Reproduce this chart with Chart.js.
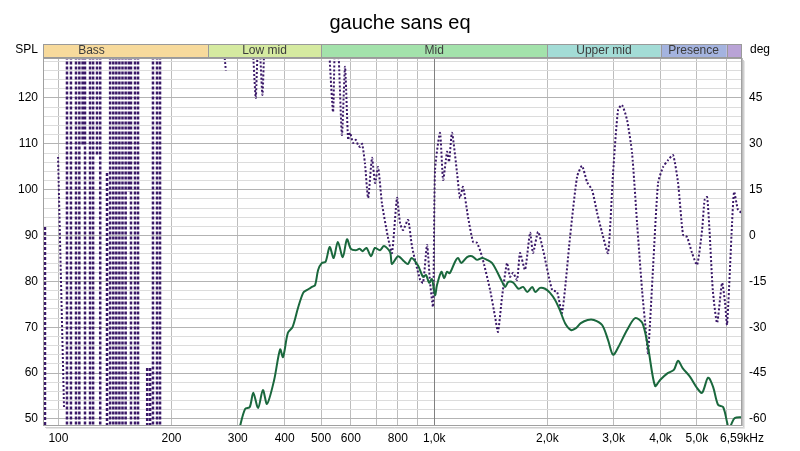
<!DOCTYPE html>
<html>
<head>
<meta charset="utf-8">
<title>gauche sans eq</title>
<script src="https://cdn.jsdelivr.net/npm/chart.js@4.4.1/dist/chart.umd.min.js"></script>
<style>
  html, body { margin: 0; padding: 0; background: #fff; }
  canvas { display: block; }
</style>
</head>
<body>
<canvas id="chart" width="800" height="451"></canvas>
<script>
// ---- data ----

// SPL trace (dB), left axis
const splFreq = [300, 304, 314, 323, 330, 340, 350, 359, 375, 389, 396, 408, 420, 434, 448, 458, 473, 482, 491, 502,
  514, 527, 540, 554, 571, 586, 600, 618, 633, 645, 660, 679, 695, 717, 735, 763, 772, 801, 831, 851,
  871, 906, 934, 951, 969, 986, 1005, 1017, 1045, 1063, 1081, 1100, 1136, 1157, 1180, 1223, 1261, 1300, 1341, 1382,
  1426, 1470, 1516, 1545, 1575, 1624, 1675, 1724, 1768, 1823, 1857, 1913, 1972, 2033, 2095, 2158, 2229, 2312, 2383, 2455,
  2560, 2660, 2797, 2901, 2991, 3090, 3259, 3425, 3580, 3705, 3868, 3989, 4180, 4340, 4454, 4580, 4794, 5000, 5160, 5354,
  5520, 5690, 5870, 6020, 6080, 6190, 6300, 6590];
const splValues = [46, 48.3, 52.2, 52.6, 55.7, 52.4, 56.3, 53.3, 58.5, 65.2, 63.5, 68.8, 70.1, 74.2, 77.5, 78.1, 78.8, 79.2, 82.5, 84.0,
  84.3, 87.5, 85.1, 88.6, 85.3, 89.2, 87.1, 86.8, 87.1, 86.6, 87.3, 85.5, 87.3, 86.8, 87.7, 86.4, 83.8, 85.5, 84.4, 83.8,
  85.1, 83.4, 81.0, 81.4, 79.7, 80.5, 77.0, 79.2, 82.1, 80.7, 82.1, 81.8, 84.3, 85.1, 84.0, 85.3, 85.5, 84.7, 85.1, 84.7,
  84.0, 82.1, 79.9, 78.8, 79.9, 79.7, 78.4, 78.8, 77.7, 78.8, 77.7, 78.6, 78.4, 77.5, 76.0, 73.8, 70.9, 69.4, 69.8, 70.9,
  71.6, 71.6, 70.5, 67.2, 64.0, 65.7, 69.4, 72.0, 70.9, 65.7, 57.2, 58.5, 60.0, 60.7, 62.7, 61.1, 59.2, 56.8, 55.7, 59.0,
  57.0, 53.1, 52.6, 49.1, 47.6, 49.1, 50.2, 50.4];

// phase trace (deg), right axis; null = break in the trace
const phaseFreq = [99.8, 103.5, null, 275, 279, null, 329, 335, 339, 343, 349, 353, null,
  523, 538, 545, 555, 568, 579, 590, 597, 608, 619, 627, 635, 643, 654, 667, 683, 696, 709, 726, 753, 772, 796,
  811, 826, 852, 873, 917, 934, 957, 975, 993, 1005, 1036, 1056, 1082, 1095, 1115, 1150, 1171, 1193, 1230, 1269,
  1300, 1341, 1408, 1452, 1478, 1515, 1562, 1591, 1621, 1661, 1692, 1744, 1799, 1832, 1889, 1948, 2059, 2122, 2188, 2298,
  2399, 2473, 2551, 2630, 2713, 2797, 2901, 2991, 3084, 3160, 3259, 3360, 3465, 3572, 3661, 3706, 3822, 3941, 4063, 4190,
  4320, 4454, 4593, 4707, 4853, 5005, 5160, 5240, 5321, 5400, 5510, 5657, 5833, 5940, 6014, 6201, 6280, 6430, 6590];
const phaseDeg = [25.7, -56.4, null, 62, 54, null, 62, 45, 60, 62, 46, 62, null,
  65, 40.4, 65, 62, 32.9, 55.2, 31.3, 33.6, 30.3, 31.3, 29.6, 29.0, 30.0, 23.7, 12.3, 25.4, 17.2, 22.4, 10.5, -0.5, -5.7, 12.3,
  4.1, 1.8, 5.1, -3.7, -14.5, -15.5, -3.1, -15.5, -23.3, 21.5, 33.6, 18.2, 27.4, 24.1, 33.6, 20.5, 12.3, 15.9, 6.1, -2.1,
  -2.4, -7.0, -17.8, -26.6, -31.5, -20.1, -9.0, -13.5, -12.2, -14.5, -5.7, -11.2, 0.9, -5.7, 1.2, -4.7, -17.8, -18.4, -25.3, -0.5,
  19.2, 22.8, 17.5, 14.9, 7.4, 0.9, -5.7, 20.5, 41.1, 42.7, 37.8, 27.0, 4.1, -17.8, -31.8, -38.4, -10.3, 17.2, 22.4, 24.7,
  26.3, 17.2, 0.2, -0.5, -5.7, -9.6, 1.8, 11.6, 12.6, 1.8, -17.8, -28.6, -15.5, -22.0, -29.2, 4.1, 14.3, 8.4, 7.4];

// phase wrapping in the bass: near-vertical strokes (freq, upper end, lower end)
const wrapFreq = [92.1, 105.4, 108.0, 111.4, 113.7, 116.0, 117.7, 121.4, 123.7, 126.7, 129.2, 134.7, 137.3, 140.0,
  142.6, 145.3, 148.1, 151.0, 153.9, 156.0, 159.9, 162.9, 172.3, 175.4, 178.5, 183.0, 186.4];
const wrapHigh = [2.8, 70, 70, 70, 70, 70, 70, 70, 70, 70, 70, 20.5, 70, 70,
  70, 70, 70, 70, 70, 70, 70, 70, -43.3, -43.3, 70, 70, 70];
const wrapLow = [-70, -70, -70, -70, -70, 29.6, -70, -70, -70, 26.3, -70, -70, -70, -70,
  -70, -70, -70, -70, 14.3, -70, -70, -70, -70, -70, -70, -70, -70];

// axes
const freqTicks = [100, 200, 300, 400, 500, 600, 700, 800, 900, 1000, 2000, 3000, 4000, 5000, 6000, 6590];
const freqTickLabels = ['100', '200', '300', '400', '500', '600', '', '800', '', '1,0k', '2,0k', '3,0k', '4,0k', '5,0k', '', '6,59kHz'];
const splTicks = [50, 60, 70, 80, 90, 100, 110, 120];
const degTicks = [-60, -45, -30, -15, 0, 15, 30, 45];

// frequency bands across the top
const bandNames = ['Bass', 'Low mid', 'Mid', 'Upper mid', 'Presence', 'Brilliance'];
const bandEdges = [60, 250, 500, 2000, 4000, 6000, 20000];
const bandColors = ['#f7da9c', '#d5eaa0', '#a3e2ab', '#a3dcd6', '#a4b3df', '#b9a3d6'];

const FONT = "'Liberation Sans', Arial, sans-serif";
const PHASE_COLOR = '#3a1868';

const splData = splFreq.map((f, i) => ({ x: f, y: splValues[i] }));
const phaseData = phaseFreq.map((f, i) => ({ x: f === null ? phaseFreq[i - 1] : f, y: phaseDeg[i] }));
const wrapData = [];
wrapFreq.forEach((f, i) => {
  wrapData.push({ x: f, y: wrapHigh[i] }, { x: f, y: wrapLow[i] }, { x: f, y: null });
});

const minorSpl = [];
for (let v = 50; v <= 128; v += 2) minorSpl.push(v);

// draws band strip, unit labels, the 1k line and the plot frame
const rewDecor = {
  id: 'rewDecor',
  beforeDatasetsDraw(chart) {
    const { ctx, chartArea: a, scales } = chart;
    const px = Math.round(scales.x.getPixelForValue(1000)) + 0.5;
    ctx.save();
    ctx.strokeStyle = '#808080';
    ctx.lineWidth = 1;
    ctx.beginPath();
    ctx.moveTo(px, a.top); ctx.lineTo(px, a.bottom);
    ctx.stroke();
    ctx.restore();
  },
  afterDatasetsDraw(chart) {
    const { ctx, chartArea: a, scales } = chart;
    const x = scales.x;
    ctx.save();

    // frame with soft shadow
    ctx.strokeStyle = '#cfcfcf';
    ctx.beginPath();
    ctx.moveTo(a.right + 1.5, a.top + 2); ctx.lineTo(a.right + 1.5, a.bottom + 1.5); ctx.lineTo(a.left + 2, a.bottom + 1.5);
    ctx.stroke();
    ctx.strokeStyle = '#e6e6e6';
    ctx.beginPath();
    ctx.moveTo(a.right + 2.5, a.top + 3); ctx.lineTo(a.right + 2.5, a.bottom + 2.5); ctx.lineTo(a.left + 3, a.bottom + 2.5);
    ctx.stroke();
    ctx.strokeStyle = '#a0a0a0';
    ctx.strokeRect(a.left + 0.5, a.top + 0.5, a.right - a.left - 1, a.bottom - a.top - 1);

    // band strip
    const top = 44, h = 13;
    ctx.font = '12px ' + FONT;
    ctx.textAlign = 'center';
    ctx.textBaseline = 'middle';
    for (let i = 0; i < bandNames.length; i++) {
      const x0 = Math.max(a.left, x.getPixelForValue(bandEdges[i]));
      const x1 = Math.min(a.right, x.getPixelForValue(bandEdges[i + 1]));
      if (x1 <= x0) continue;
      ctx.fillStyle = bandColors[i];
      ctx.fillRect(x0, top, x1 - x0, h);
      ctx.save();
      ctx.beginPath();
      ctx.rect(x0, top, x1 - x0, h);
      ctx.clip();
      const cx = (x.getPixelForValue(bandEdges[i]) + x.getPixelForValue(bandEdges[i + 1])) / 2;
      ctx.fillStyle = '#3c3c3c';
      ctx.fillText(bandNames[i], cx, top + h / 2 + 0.5);
      ctx.restore();
      ctx.strokeStyle = '#9a9a9a';
      ctx.beginPath();
      ctx.moveTo(Math.round(x0) + 0.5, top); ctx.lineTo(Math.round(x0) + 0.5, top + h);
      ctx.stroke();
    }
    ctx.strokeStyle = '#9a9a9a';
    ctx.strokeRect(a.left + 0.5, top + 0.5, a.right - a.left - 1, h);

    // unit labels
    ctx.fillStyle = '#000';
    ctx.textAlign = 'right';
    ctx.fillText('SPL', 38, 50);
    ctx.textAlign = 'left';
    ctx.fillText('deg', 750, 50);
    ctx.restore();
  }
};

new Chart(document.getElementById('chart'), {
  type: 'line',
  data: {
    datasets: [
      { label: 'SPL', data: splData, yAxisID: 'ySpl', borderColor: '#1a683d', borderWidth: 2,
        pointRadius: 0, tension: 0.3, fill: false },
      { label: 'Phase', data: phaseData, yAxisID: 'yDeg', borderColor: PHASE_COLOR, borderWidth: 2,
        borderDash: [2, 2], pointRadius: 0, tension: 0.2, fill: false, spanGaps: false },
      { label: 'Phase wrap', data: wrapData, yAxisID: 'yDeg', borderColor: PHASE_COLOR, borderWidth: 2.5,
        borderDash: [3, 2], pointRadius: 0, tension: 0, fill: false, spanGaps: false }
    ]
  },
  options: {
    responsive: false,
    devicePixelRatio: 1,
    animation: false,
    layout: { padding: 0 },
    plugins: {
      legend: { display: false },
      tooltip: { enabled: false },
      title: {
        display: true, text: 'gauche sans eq', color: '#000',
        font: { family: FONT, size: 20, weight: 'normal', lineHeight: 1.2 },
        padding: { top: 11, bottom: 23 }
      }
    },
    scales: {
      x: {
        type: 'logarithmic', min: 91, max: 6590,
        afterBuildTicks: s => { s.ticks = freqTicks.map(v => ({ value: v })); },
        afterFit: s => { s.height = 25; },
        ticks: {
          autoSkip: false, maxRotation: 0, padding: 5, color: '#000',
          font: { family: FONT, size: 12 },
          callback: (v, i) => freqTickLabels[i]
        },
        grid: { color: '#bdbdbd', drawTicks: false },
        border: { display: false }
      },
      ySpl: {
        position: 'left', min: 48.47, max: 128.72,
        afterBuildTicks: s => { s.ticks = minorSpl.map(v => ({ value: v })); },
        afterFit: s => { s.width = 43; },
        ticks: {
          autoSkip: false, padding: 5, color: '#000', font: { family: FONT, size: 12 },
          callback: v => (splTicks.includes(v) ? String(v) : '')
        },
        grid: { color: c => (c.tick && c.tick.value % 10 === 0 ? '#b3b3b3' : '#dcdcdc'), drawTicks: false },
        border: { display: false }
      },
      yDeg: {
        position: 'right', min: -62.3, max: 58.08,
        afterBuildTicks: s => { s.ticks = degTicks.map(v => ({ value: v })); },
        afterFit: s => { s.width = 58; },
        ticks: { autoSkip: false, padding: 7, color: '#000', font: { family: FONT, size: 12 } },
        grid: { drawOnChartArea: false, drawTicks: false },
        border: { display: false }
      }
    }
  },
  plugins: [rewDecor]
});
</script>
</body>
</html>
